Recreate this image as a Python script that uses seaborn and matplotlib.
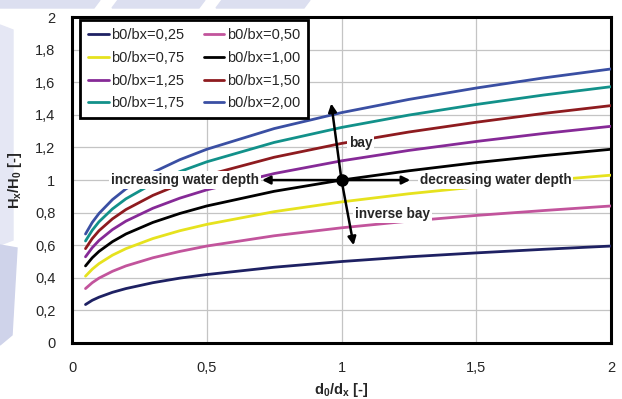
import pandas as pd
import matplotlib.pyplot as plt
import seaborn as sns
from matplotlib.patches import Polygon

d_ratio = [0.05, 0.075, 0.1, 0.15, 0.2, 0.3, 0.4, 0.5, 0.75, 1.0, 1.25, 1.5, 1.75, 2.0]

# Hx/H0 for each width ratio b0/bx
h_025 = [0.236, 0.262, 0.281, 0.311, 0.334, 0.370, 0.398, 0.420, 0.465, 0.500, 0.529, 0.553, 0.575, 0.595]
h_050 = [0.334, 0.370, 0.398, 0.440, 0.473, 0.523, 0.562, 0.595, 0.658, 0.707, 0.748, 0.783, 0.813, 0.841]
h_075 = [0.410, 0.453, 0.487, 0.539, 0.579, 0.641, 0.689, 0.728, 0.806, 0.866, 0.916, 0.958, 0.996, 1.030]
h_100 = [0.473, 0.523, 0.562, 0.622, 0.669, 0.740, 0.795, 0.841, 0.931, 1.000, 1.057, 1.107, 1.150, 1.189]
h_125 = [0.529, 0.585, 0.629, 0.696, 0.748, 0.827, 0.889, 0.940, 1.040, 1.118, 1.182, 1.237, 1.286, 1.330]
h_150 = [0.579, 0.641, 0.689, 0.762, 0.819, 0.906, 0.974, 1.030, 1.140, 1.225, 1.295, 1.355, 1.409, 1.457]
h_175 = [0.626, 0.692, 0.744, 0.823, 0.885, 0.979, 1.052, 1.112, 1.231, 1.323, 1.399, 1.464, 1.522, 1.573]
h_200 = [0.669, 0.740, 0.795, 0.880, 0.946, 1.047, 1.125, 1.189, 1.316, 1.414, 1.495, 1.565, 1.627, 1.682]

labels = ["b0/bx=0,25", "b0/bx=0,50", "b0/bx=0,75", "b0/bx=1,00",
          "b0/bx=1,25", "b0/bx=1,50", "b0/bx=1,75", "b0/bx=2,00"]
colors = ["#1e2163", "#c2549c", "#e6e21e", "#000000",
          "#862a97", "#8e1b1f", "#12918a", "#3a4fa3"]
series = [h_025, h_050, h_075, h_100, h_125, h_150, h_175, h_200]

x_ticks = [0, 0.5, 1, 1.5, 2]
x_tick_labels = ["0", "0,5", "1", "1,5", "2"]
y_ticks = [0, 0.2, 0.4, 0.6, 0.8, 1.0, 1.2, 1.4, 1.6, 1.8, 2.0]
y_tick_labels = ["0", "0,2", "0,4", "0,6", "0,8", "1", "1,2", "1,4", "1,6", "1,8", "2"]

# long-form table for seaborn
rows = []
for lab, vals in zip(labels, series):
    for d, h in zip(d_ratio, vals):
        rows.append({"d": d, "H": h, "case": lab})
df = pd.DataFrame(rows)

#%% Plot
sns.set_style("white")
plt.rcParams['font.family'] = ['Liberation Sans', 'DejaVu Sans']
plt.rcParams['mathtext.fontset'] = 'custom'
plt.rcParams['mathtext.rm'] = 'Liberation Sans'
plt.rcParams['mathtext.bf'] = 'Liberation Sans:bold'

fig = plt.figure(figsize=(6.22, 3.99), dpi=100)
ax = fig.add_axes([0.1158, 0.1404, 0.8665, 0.8166])

# faint watermark shapes in the background
wm = "#dcdff0"
for x0, x1 in [(0, 100), (118, 205), (222, 310)]:
    fig.add_artist(Polygon([(x0 / 622, 1), (x1 / 622, 1), ((x1 - 6) / 622, 1 - 8 / 399), ((x0 - 6) / 622, 1 - 8 / 399)],
                           closed=True, transform=fig.transFigure, color=wm, zorder=0))
fig.add_artist(Polygon([(0, 1 - 25 / 399), (13 / 622, 1 - 30 / 399), (13 / 622, 1 - 240 / 399), (0, 1 - 245 / 399)],
                       closed=True, transform=fig.transFigure, color="#e5e7f4", zorder=0))
fig.add_artist(Polygon([(0, 1 - 245 / 399), (17 / 622, 1 - 248 / 399), (12 / 622, 1 - 335 / 399), (0, 1 - 345 / 399)],
                       closed=True, transform=fig.transFigure, color="#cfd3ea", zorder=0))

sns.lineplot(data=df, x="d", y="H", hue="case", palette=dict(zip(labels, colors)),
             linewidth=2, ax=ax, legend=True, zorder=3)

ax.set_xlim(0, 2)
ax.set_ylim(0, 2)
ax.set_xticks(x_ticks)
ax.set_xticklabels(x_tick_labels)
ax.set_yticks(y_ticks)
ax.set_yticklabels(y_tick_labels)
ax.tick_params(axis='y', direction='out', length=8, width=1, color='#888888', pad=4, labelsize=10.5)
ax.tick_params(axis='x', direction='out', length=3, width=1, color='#888888', pad=10, labelsize=10.5)
ax.grid(True, color='#c4c4c4', linewidth=0.9, zorder=0)
for s in ax.spines.values():
    s.set_color('black')
    s.set_linewidth(2.2)

ax.set_xlabel(r"$\mathbf{d_0/d_x}$ [-]", fontweight='bold', fontsize=10.5, labelpad=4)
ax.set_ylabel(r"$\mathbf{H_x/H_0}$ [-]", fontweight='bold', fontsize=10.5, labelpad=8)

# legend, filled row by row
handles, labs = ax.get_legend_handles_labels()
order = [0, 2, 4, 6, 1, 3, 5, 7]
leg = ax.legend([handles[i] for i in order], [labs[i] for i in order], ncol=2,
                loc='upper left', bbox_to_anchor=(0.015, 0.991), fontsize=10.5,
                handlelength=1.4, handletextpad=0.2, columnspacing=1.3, labelspacing=0.6,
                fancybox=False, framealpha=1, borderpad=0.55, borderaxespad=0)
leg.get_frame().set_edgecolor('black')
leg.get_frame().set_linewidth(2)
leg.set_zorder(10)

# direction arrows from the reference point
arrow = dict(arrowstyle='-|>', color='black', lw=1.8, mutation_scale=12, shrinkA=0, shrinkB=0)
for tx, ty in [(0.962, 1.47), (1.045, 0.60), (0.705, 1.0), (1.255, 1.0)]:
    ax.annotate("", xy=(tx, ty), xytext=(1, 1), arrowprops=arrow, zorder=6)
ax.plot([1], [1], 'o', color='black', markersize=8, zorder=7)

box = dict(facecolor='white', edgecolor='none', pad=1.5)
ax.text(1.07, 1.23, "bay", fontsize=9.8, fontweight='bold', ha='center', va='center', bbox=box, zorder=5)
ax.text(0.695, 1.0, "increasing water depth", fontsize=9.8, fontweight='bold', ha='right', va='center', bbox=box, zorder=5)
ax.text(1.29, 1.0, "decreasing water depth", fontsize=9.8, fontweight='bold', ha='left', va='center', bbox=box, zorder=5)
ax.text(1.19, 0.79, "inverse bay", fontsize=9.8, fontweight='bold', ha='center', va='center', bbox=box, zorder=5)

fig.savefig("out.png", dpi=100)
